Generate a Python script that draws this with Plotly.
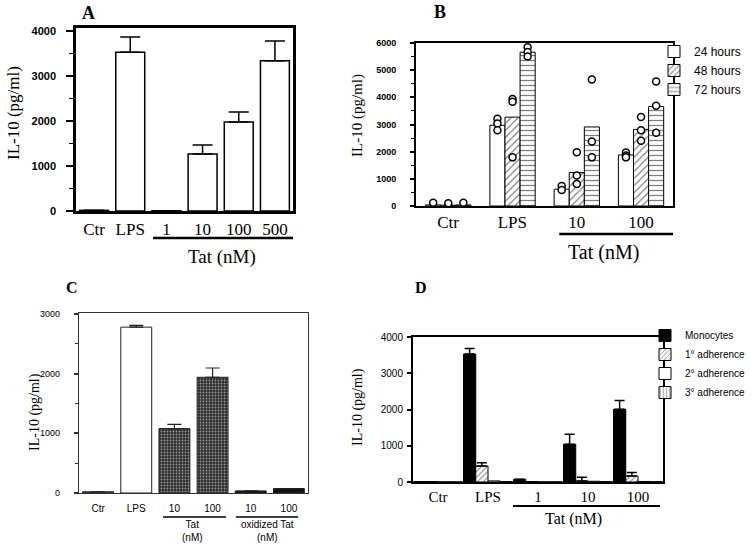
import plotly.graph_objects as go

W, H = 751, 554

# ---------------- DATA ----------------
A_cats = ["Ctr", "LPS", "1", "10", "100", "500"]
A_vals = [15, 3530, 5, 1270, 1980, 3340]
A_err = [0, 340, 0, 200, 220, 440]

B_groups = ["Ctr", "LPS", "10", "100"]
B_24 = [40, 2970, 620, 1880]
B_48 = [30, 3270, 1230, 2820]
B_72 = [40, 5660, 2910, 3660]
B_pts_24 = [[120], [3210, 3040, 2790], [740, 590], [1970, 1860, 1790]]
B_pts_48 = [[100], [3940, 3840, 1790], [1980, 1120, 810], [3280, 2790, 2400]]
B_pts_72 = [[120], [5840, 5670, 5500], [4660, 2370, 1790], [4580, 3690, 2700]]
B_series = ["24 hours", "48 hours", "72 hours"]

C_labels = ["Ctr", "LPS", "10", "100", "10", "100"]
C_vals = [20, 2780, 1080, 1940, 35, 75]
C_err = [0, 30, 70, 155, 0, 0]

D_groups = ["Ctr", "LPS", "1", "10", "100"]
D_series = ["Monocytes", "1° adherence", "2° adherence", "3° adherence"]
D_mono = [10, 3530, 75, 1040, 2005]
D_mono_err = [0, 155, 0, 275, 240]
D_1 = [5, 440, 10, 30, 165]
D_1_err = [0, 90, 0, 100, 100]
D_2 = [5, 30, 5, 20, 15]
D_3 = [5, 10, 5, 10, 10]

SERIF = "Liberation Serif, Times New Roman, serif"
SANS = "Liberation Sans, Arial, sans-serif"


def xd(a, b):
    return [a / W, b / W]


def yd(top, bottom):
    return [1 - bottom / H, 1 - top / H]


fig = go.Figure()

# ---------------- PANEL A ----------------
fig.add_trace(go.Bar(
    x=list(range(len(A_cats))), y=A_vals, width=0.8,
    marker=dict(color="white", line=dict(color="black", width=1.5)),
    error_y=dict(type="data", symmetric=False, array=A_err, arrayminus=[0] * len(A_err),
                 color="black", thickness=1.5, width=10),
    xaxis="x", yaxis="y", showlegend=False))

# ---------------- PANEL B ----------------
b_width = 0.235
b_offsets = [-0.35, -0.115, 0.12]
b_patterns = ["", "/", "-"]
b_data = [B_24, B_48, B_72]
b_pts = [B_pts_24, B_pts_48, B_pts_72]
for k in range(3):
    fig.add_trace(go.Bar(
        x=list(range(len(B_groups))), y=b_data[k], width=b_width, offset=b_offsets[k],
        name=B_series[k],
        marker=dict(color="white", line=dict(color="black", width=1),
                    pattern=dict(shape=b_patterns[k], fgcolor="black", size=5, solidity=0.25)),
        xaxis="x2", yaxis="y2", legend="legend"))
for k in range(3):
    xs, ys = [], []
    for g, vals in enumerate(b_pts[k]):
        for v in vals:
            xs.append(g + b_offsets[k] + b_width / 2)
            ys.append(v)
    fig.add_trace(go.Scatter(
        x=xs, y=ys, mode="markers",
        marker=dict(symbol="circle", size=7, color="white", line=dict(color="black", width=1.5)),
        xaxis="x2", yaxis="y2", showlegend=False))

# ---------------- PANEL C ----------------
fig.add_trace(go.Bar(
    x=list(range(len(C_labels))), y=C_vals, width=0.81,
    marker=dict(color=["#555555", "white", "#2e2e2e", "#2e2e2e", "#111111", "#111111"],
                line=dict(color="#222222", width=1),
                pattern=dict(shape=["", "", ".", ".", "", ""], fgcolor="#5c5c5c", size=3, solidity=0.3)),
    error_y=dict(type="data", symmetric=False, array=C_err, arrayminus=[0] * len(C_err),
                 color="#222222", thickness=1.2, width=7),
    xaxis="x3", yaxis="y3", showlegend=False))

# ---------------- PANEL D ----------------
d_width = 0.245
d_data = [D_mono, D_1, D_2, D_3]
d_err = [D_mono_err, D_1_err, None, None]
d_colors = ["black", "white", "white", "white"]
d_patterns = ["", "/", "", "|"]
for k in range(4):
    kw = {}
    if d_err[k] is not None:
        kw["error_y"] = dict(type="data", symmetric=False, array=d_err[k],
                             arrayminus=[0] * len(d_err[k]), color="black", thickness=1.5, width=5)
    fig.add_trace(go.Bar(
        x=list(range(len(D_groups))), y=d_data[k], width=d_width, offset=-0.49 + k * d_width,
        name=D_series[k],
        marker=dict(color=d_colors[k], line=dict(color="black", width=1),
                    pattern=dict(shape=d_patterns[k], fgcolor="black", size=4, solidity=0.25)),
        xaxis="x4", yaxis="y4", legend="legend2", **kw))

# ---------------- AXES ----------------
def xaxis(dom, anchor, n, labels, font, lw, lc="black", standoff=2):
    return dict(domain=dom, anchor=anchor, range=[-0.5, n - 0.5],
                tickmode="array", tickvals=list(range(n)), ticktext=labels,
                ticks="", tickfont=font, showline=True, mirror=True, linewidth=lw, linecolor=lc,
                showgrid=False, zeroline=False, fixedrange=True, ticklabelstandoff=standoff,
                automargin=False)


def yaxis(dom, anchor, rng, dtick, font, lw, ticklen, minor, lc="black", standoff=2):
    d = dict(domain=dom, anchor=anchor, range=rng, tickmode="linear", tick0=0, dtick=dtick,
             ticks="outside", ticklen=ticklen, tickwidth=1.5, tickcolor=lc, tickfont=font,
             showline=True, mirror=True, linewidth=lw, linecolor=lc,
             showgrid=False, zeroline=False, fixedrange=True, ticklabelstandoff=standoff,
             automargin=False)
    if minor:
        d["minor"] = dict(dtick=dtick / 2, tick0=0, ticks="outside", ticklen=minor,
                          tickcolor=lc, tickwidth=1.2, showgrid=False)
    return d


fig.update_layout(
    width=W, height=H, margin=dict(l=0, r=0, t=0, b=0, autoexpand=False),
    paper_bgcolor="white", plot_bgcolor="white", barmode="overlay",
    xaxis=xaxis(xd(76, 293), "y", 6, A_cats, dict(family=SERIF, size=17, color="black"), 2.5, standoff=1),
    yaxis=yaxis(yd(28, 211), "x", [0, 4070], 1000,
                dict(family=SANS, size=11, color="black", weight="bold"), 2.5, 7, 4, standoff=8),
    xaxis2=xaxis(xd(416, 673), "y2", 4, B_groups, dict(family=SERIF, size=17, color="black"), 2, standoff=0),
    yaxis2=yaxis(yd(43, 206), "x2", [0, 6000], 1000,
                 dict(family=SANS, size=9, color="black", weight="bold"), 2, 4, 3, standoff=12),
    xaxis3=xaxis(xd(79, 308), "y3", 6, C_labels, dict(family=SANS, size=10, color="black"), 1.2, "#333333",
                 standoff=6),
    yaxis3=yaxis(yd(313, 493), "x3", [0, 3017], 1000,
                 dict(family=SANS, size=9, color="black"), 1.2, 4, 3, lc="#333333", standoff=12),
    xaxis4=xaxis(xd(413, 663), "y4", 5, D_groups, dict(family=SERIF, size=15, color="black"), 2, standoff=0),
    yaxis4=yaxis(yd(337, 482), "x4", [0, 4000], 1000,
                 dict(family=SANS, size=10, color="black"), 2, 4, 0, standoff=2),
    legend=dict(x=(694 - 40) / W, y=1 - 37 / H, xanchor="left", yanchor="top",
                font=dict(family=SANS, size=12, color="black"), bgcolor="rgba(0,0,0,0)",
                borderwidth=0, tracegroupgap=0),
    legend2=dict(x=(685 - 40) / W, y=1 - 321 / H, xanchor="left", yanchor="top",
                 font=dict(family=SANS, size=10, color="black"), bgcolor="rgba(0,0,0,0)",
                 borderwidth=0, tracegroupgap=0),
)

# ---------------- ANNOTATIONS ----------------
def ann(text, x, y, size, family=SERIF, angle=0, bold=False):
    fig.add_annotation(text=("<b>%s</b>" % text) if bold else text, x=x / W, y=1 - y / H,
                       xref="paper", yref="paper", showarrow=False, textangle=angle,
                       font=dict(family=family, size=size, color="black"),
                       xanchor="center", yanchor="middle")


ann("A", 88, 13, 18, bold=True)
ann("B", 440, 12, 18, bold=True)
ann("C", 72, 287, 16, bold=True)
ann("D", 421, 287, 16, bold=True)

ann("IL-10 (pg/ml)", 13, 113, 17, angle=-90)
ann("IL-10 (pg/ml)", 358, 116, 15, angle=-90)
ann("IL-10 (pg/ml)", 35, 412, 14, angle=-90)
ann("IL-10 (pg/ml)", 358, 407, 14, angle=-90)

ann("Tat (nM)", 222, 257, 19)
ann("Tat (nM)", 603, 252, 20)
ann("Tat<br>(nM)", 192, 531, 10, family=SANS)
ann("oxidized Tat<br>(nM)", 267, 531, 10, family=SANS)
ann("Tat (nM)", 573, 519, 16)

# underline bars grouping the Tat concentrations
def group_line(xref, x0, x1, ypx, w):
    fig.add_shape(type="line", xref=xref, yref="paper", x0=x0, x1=x1,
                  y0=1 - ypx / H, y1=1 - ypx / H, line=dict(color="black", width=w))


group_line("x", 1.63, 5.5, 238, 2.5)
group_line("x2", 1.73, 3.5, 234, 2.5)
group_line("x3", 1.70, 3.35, 517, 1.5)
group_line("x3", 3.61, 5.24, 517, 1.5)
group_line("x4", 1.5, 4.44, 506, 2.2)

fig.write_html("out.html", config={"displayModeBar": False},
               post_script="document.body.style.margin='0';document.body.style.overflow='hidden';")
